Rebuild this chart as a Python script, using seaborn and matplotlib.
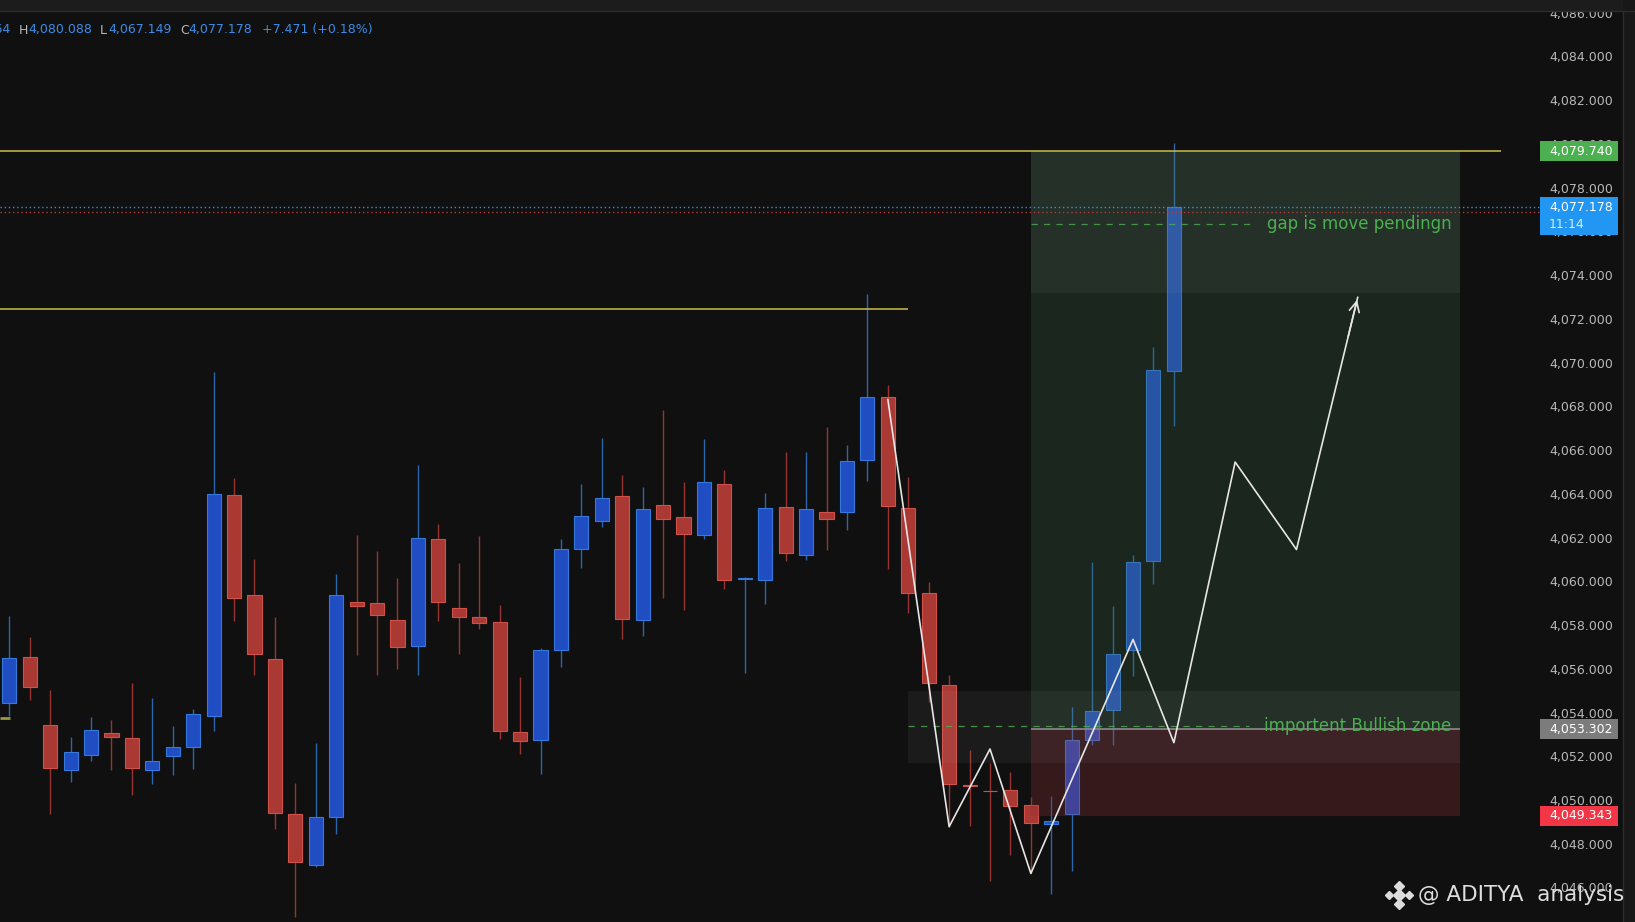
import numpy as np
import pandas as pd
import matplotlib.pyplot as plt
import matplotlib.patches as mpatches
from matplotlib.lines import Line2D
import seaborn as sns

# candles (bar 0 = first visible bar on the left)
opens = [4054.52, 4056.60, 4053.49, 4051.45, 4052.14, 4053.15, 4052.89, 4051.45, 4052.06, 4052.47,
         4053.92, 4064.01, 4059.44, 4056.52, 4049.41, 4047.08, 4049.31, 4059.10, 4059.06, 4058.28,
         4057.12, 4061.99, 4058.87, 4058.42, 4058.23, 4053.20, 4052.82, 4056.95, 4061.53, 4062.81,
         4063.95, 4058.28, 4063.58, 4063.01, 4062.17, 4064.54, 4060.18, 4060.15, 4063.45, 4061.28,
         4063.26, 4063.25, 4065.60, 4068.48, 4063.40, 4059.52, 4055.31, 4050.76, 4050.50, 4050.52,
         4049.84, 4048.98, 4049.44, 4052.82, 4054.20, 4056.94, 4060.98, 4069.707]
highs = [4058.47, 4057.51, 4055.10, 4052.94, 4053.85, 4053.72, 4055.42, 4054.73, 4053.45, 4054.23,
         4069.63, 4064.80, 4061.09, 4058.43, 4050.85, 4052.68, 4060.40, 4062.18, 4061.45, 4060.22,
         4065.38, 4062.69, 4060.90, 4062.14, 4058.98, 4055.69, 4057.00, 4061.98, 4064.50, 4066.60,
         4064.91, 4064.36, 4067.90, 4064.61, 4066.56, 4065.18, 4060.28, 4064.09, 4065.98, 4065.98,
         4067.12, 4066.28, 4073.20, 4069.04, 4064.83, 4060.02, 4055.78, 4052.35, 4051.74, 4051.35,
         4050.19, 4050.25, 4054.31, 4060.95, 4058.94, 4061.25, 4070.78, 4080.088]
lows = [4053.92, 4054.65, 4049.43, 4050.88, 4051.86, 4051.45, 4050.31, 4050.80, 4051.22, 4051.50,
        4053.23, 4058.25, 4055.80, 4048.76, 4044.70, 4047.00, 4048.53, 4056.71, 4055.80, 4056.08,
        4055.80, 4058.25, 4056.74, 4057.90, 4052.87, 4052.18, 4051.27, 4056.16, 4060.69, 4062.56,
        4057.41, 4057.58, 4059.32, 4058.77, 4062.01, 4059.73, 4055.89, 4059.04, 4061.01, 4061.04,
        4061.50, 4062.41, 4064.64, 4060.63, 4058.63, 4054.56, 4048.85, 4048.89, 4046.38, 4047.57,
        4046.71, 4045.75, 4046.83, 4052.58, 4052.58, 4055.76, 4059.96, 4067.149]
closes = [4056.56, 4055.24, 4051.55, 4052.25, 4053.25, 4052.94, 4051.55, 4051.83, 4052.47, 4053.98,
          4064.04, 4059.32, 4056.76, 4049.49, 4047.24, 4049.31, 4059.42, 4058.92, 4058.51, 4057.05,
          4062.04, 4059.13, 4058.45, 4058.17, 4053.23, 4052.78, 4056.91, 4061.53, 4063.04, 4063.90,
          4058.33, 4063.36, 4062.94, 4062.24, 4064.59, 4060.15, 4060.22, 4063.40, 4061.37, 4063.36,
          4062.90, 4065.55, 4068.48, 4063.49, 4059.55, 4055.40, 4050.78, 4050.72, 4050.46, 4049.81,
          4049.03, 4049.13, 4052.79, 4054.13, 4056.74, 4060.93, 4069.73, 4077.178]

price_ticks = list(range(4046, 4088, 2))

# hand drawn projection path (bar index, price)
zig_bars = [43, 46, 48, 50, 55, 57, 60, 63, 66]
zig_prices = [4068.39, 4048.85, 4052.40, 4046.71, 4057.41, 4052.69, 4065.52, 4061.52, 4073.06]

level_top = 4079.740
level_mid = 4072.50
level_low = 4053.83
entry_price = 4053.302
stop_price = 4049.343
last_price = 4077.178
red_line = 4076.94
gap_box = (4073.23, 4079.74)
zone_box = (4051.77, 4055.06)

W, H = 1635, 922
BG = '#101010'

sns.set_theme(style='dark', rc={'axes.facecolor': BG, 'figure.facecolor': BG})
plt.rcParams['font.family'] = ['DejaVu Sans']

fig = plt.figure(figsize=(W / 100, H / 100), dpi=100)
ax = fig.add_axes([0, 0, 1540 / W, 910 / H])
ax2 = fig.add_axes([1540 / W, 0, 83 / W, 910 / H], sharey=ax)
for a in (ax, ax2):
    a.set_facecolor(BG)
    for s in a.spines.values():
        s.set_visible(False)
    a.tick_params(left=False, bottom=False, labelleft=False, labelbottom=False)

x0, x1 = -0.455, 74.92
ax.set_xlim(x0, x1)
ax.set_ylim(4044.49, 4086.10)
ax2.set_xlim(0, 1)

# candles
df = pd.DataFrame({'open': opens, 'high': highs, 'low': lows, 'close': closes})
df['bar'] = np.arange(len(df))
df['up'] = df['close'] >= df['open']
styles = {True: ('#214dc2', '#3479dc', '#2b66ad'), False: ('#aa3933', '#d2504a', '#973431')}
for up, g in df.groupby('up'):
    fill, edge, wick = styles[up]
    ax.vlines(g['bar'], g['low'], g['high'], color=wick, lw=1, zorder=2)
    ax.bar(g['bar'], (g['close'] - g['open']).abs().clip(lower=0.03),
           bottom=g[['open', 'close']].min(axis=1), width=0.69,
           color=fill, edgecolor=edge, linewidth=0.8, zorder=3)

# long position tool + boxes (drawn over candles, semi transparent)
ax.add_patch(mpatches.Rectangle((50, entry_price), 21, level_top - entry_price,
                                facecolor=(60 / 255, 108 / 255, 72 / 255), alpha=0.25, lw=0, zorder=4))
ax.add_patch(mpatches.Rectangle((50, stop_price), 21, entry_price - stop_price,
                                facecolor=(139 / 255, 46 / 255, 53 / 255), alpha=0.3, lw=0, zorder=4))
ax.add_patch(mpatches.Rectangle((50, gap_box[0]), 21, gap_box[1] - gap_box[0],
                                facecolor='#b4b4b4', alpha=0.07, lw=0, zorder=4))
ax.add_patch(mpatches.Rectangle((44, zone_box[0]), 27, zone_box[1] - zone_box[0],
                                facecolor='#b4b4b4', alpha=0.07, lw=0, zorder=4))
ax.hlines(entry_price, 50, 71, color='#8a8a8a', lw=1.2, zorder=5)

# horizontal levels
ax.hlines(level_top, x0, 73, color='#c9bf4a', lw=1.1, zorder=5)
ax.hlines(level_mid, x0, 44, color='#c9bf4a', lw=1.1, zorder=5)
ax.hlines(level_low, x0, 0.03, color='#9c9440', lw=2, zorder=5)
ax.hlines(last_price, x0, x1, color='#2196f3', lw=1, linestyles=(0, (1, 2)), zorder=5)
ax.hlines(red_line, x0, x1, color='#b83a3a', lw=1, linestyles=(0, (1, 2)), zorder=5)

# box labels
ax.hlines(4076.39, 50, 61, color='#4caf50', lw=0.9, linestyles=(0, (5, 5)), alpha=0.8, zorder=5)
ax.text(70.6, 4076.39, 'gap is move pendingn', ha='right', va='center', color='#4caf50',
        fontsize=12, zorder=7)
ax.hlines(4053.45, 44, 60.7, color='#4caf50', lw=0.9, linestyles=(0, (5, 5)), alpha=0.8, zorder=5)
ax.text(70.6, 4053.45, 'importent Bullish zone', ha='right', va='center', color='#4caf50',
        fontsize=12, zorder=7)

# projection zigzag
sns.lineplot(x=zig_bars, y=zig_prices, sort=False, estimator=None, color='#e6e6e6',
             lw=1.2, ax=ax, zorder=6)
ax.annotate('', xy=(zig_bars[-1], zig_prices[-1]),
            xytext=(zig_bars[-1] - 0.5, zig_prices[-1] - (zig_prices[-1] - zig_prices[-2]) / 6),
            arrowprops=dict(arrowstyle='->,head_length=0.6,head_width=0.3', color='#e6e6e6', lw=1.2),
            zorder=6)
ax.set_xlabel('')
ax.set_ylabel('')

# price scale
ytr = ax2.get_yaxis_transform()
for v in price_ticks:
    ax2.text(0.108, v, f'{v:,.3f}', transform=ytr, ha='left', va='center',
             color='#b8b8b8', fontsize=9, clip_on=True)

box_h = 20 / 21.87
for price, colour in [(level_top, '#4caf50'), (entry_price, '#7c7c7c'), (stop_price, '#f23645')]:
    ax2.add_patch(mpatches.Rectangle((0, price - box_h / 2), 0.94, box_h, transform=ytr,
                                     facecolor=colour, lw=0, zorder=5))
    ax2.text(0.108, price, f'{price:,.3f}', transform=ytr, ha='left', va='center',
             color='white', fontsize=9, zorder=6)
ax2.add_patch(mpatches.Rectangle((0, 4075.90), 0.94, 4077.64 - 4075.90, transform=ytr,
                                 facecolor='#2196f3', lw=0, zorder=5))
ax2.text(0.108, last_price, f'{last_price:,.3f}', transform=ytr, ha='left', va='center',
         color='white', fontsize=9, zorder=6)
ax2.text(0.108, 4076.40, '11:14', transform=ytr, ha='left', va='center',
         color='#d6ebff', fontsize=9, zorder=6)

# frame bits
fig.patches.append(mpatches.Rectangle((0, 911 / H), 1, 11 / H, transform=fig.transFigure,
                                      facecolor='#1c1c1c', lw=0))
fig.add_artist(Line2D([0, 1], [910.5 / H, 910.5 / H], transform=fig.transFigure, color='#2c2c2c', lw=1))
fig.patches.append(mpatches.Rectangle((1623 / W, 0), 12 / W, 1, transform=fig.transFigure,
                                      facecolor='#181818', lw=0))
fig.add_artist(Line2D([1623 / W, 1623 / W], [0, 910 / H], transform=fig.transFigure, color='#2c2c2c', lw=1))

# OHLC legend top left (open value is cut by the left edge, as in the screenshot)
ty = 1 - 30 / H
fig.text(11 / W, ty, 'O4,069.764', ha='right', va='center', color='#3c8ce7', fontsize=9)
for px, txt, col in [(19, 'H', '#b8b8b8'), (28, '4,080.088', '#3c8ce7'),
                     (100, 'L', '#b8b8b8'), (108, '4,067.149', '#3c8ce7'),
                     (180, 'C', '#b8b8b8'), (188, '4,077.178', '#3c8ce7'),
                     (262, '+7.471 (+0.18%)', '#3c8ce7')]:
    fig.text(px / W, ty, txt, ha='left', va='center', color=col, fontsize=9)

# watermark
cx, cy = 1399, 895
for dx, dy, ms in [(0, 0, 6), (-10, 0, 4), (10, 0, 4), (0, -9, 5), (0, 9, 5)]:
    fig.add_artist(Line2D([(cx + dx) / W], [1 - (cy + dy) / H], transform=fig.transFigure,
                          marker='D', ms=ms, color='#dcdcdc', lw=0))
fig.text(1418 / W, 1 - 895 / H, '@ ADITYA  analysis', ha='left', va='center',
         color='#dedede', fontsize=15.5)

fig.savefig('out.png', dpi=100, facecolor=BG)
